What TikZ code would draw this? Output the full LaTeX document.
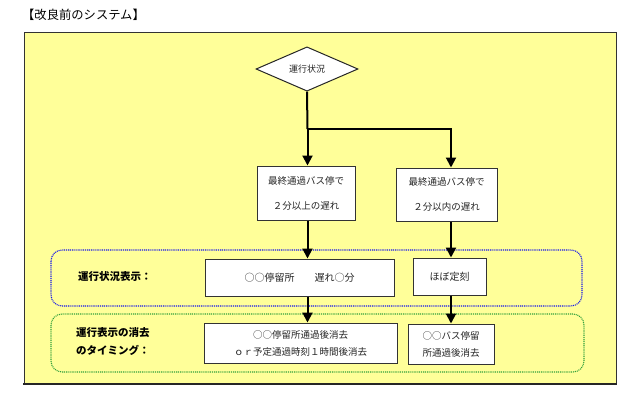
\documentclass[tikz,border=0pt]{standalone}
\usepackage{fontspec}
\setmainfont{Noto Sans CJK JP}
\usetikzlibrary{shapes.geometric,arrows.meta}
\definecolor{bgyellow}{RGB}{255,255,153}
\definecolor{dotblue}{RGB}{20,20,235}
\definecolor{dotgreen}{RGB}{50,160,60}
\tikzset{
  boxnode/.style={draw=black!80, line width=1pt, fill=white, inner sep=0pt, text=black!85, align=center},
  flowline/.style={line width=2pt, black},
  flowarrow/.style={line width=2pt, black, -{Triangle[length=10pt,width=10pt]}},
  groupframe/.style={line width=1.1pt, rounded corners=11pt, dash pattern=on 1pt off 0.9pt},
  labeltext/.style={anchor=west, inner sep=0pt, align=left, font=\bfseries\fontsize{10.5}{18}\selectfont}
}
\begin{document}
\begin{tikzpicture}[x=1pt,y=-1pt]
\useasboundingbox (0,0) rectangle (640,400);
% title
\node[anchor=west, inner sep=0pt, font=\fontsize{12.3}{14}\selectfont] (title) at (22,15) {【改良前のシステム】};
% outer panel
\fill[bgyellow] (24,32) rectangle (616,384);
\draw[black!80, line width=0.9pt] (24,384) -- (24,32) -- (616,32) -- (616,384);
\draw[black!85, line width=2pt] (23,384) -- (617,384);
% group frames
\draw[groupframe, dotblue] (51,250) rectangle (582,306);
\draw[groupframe, dotgreen] (51,314) rectangle (584,372);
% diamond
\node[diamond, draw=black!85, line width=1pt, fill=white, minimum width=102pt, minimum height=42pt, inner sep=0pt, font=\fontsize{9}{11}\selectfont, text=black!85] (dia) at (307,69) {運行状況};
% condition boxes
\node[boxnode, minimum width=98pt, minimum height=54pt, font=\fontsize{9.5}{25}\selectfont] (b1) at (306,193) {最終通過バス停で\\２分以上の遅れ};
\node[boxnode, minimum width=101pt, minimum height=53pt, font=\fontsize{9.5}{25}\selectfont] (b2) at (446.5,194.5) {最終通過バス停で\\２分以内の遅れ};
% display boxes
\node[boxnode, minimum width=189pt, minimum height=37pt, font=\fontsize{10}{12}\selectfont] (d1) at (299.5,277.5) {○○停留所　　遅れ○分};
\node[boxnode, minimum width=73pt, minimum height=37pt, font=\fontsize{10}{12}\selectfont] (d2) at (449.5,276.5) {ほぼ定刻};
% timing boxes
\node[boxnode, minimum width=193pt, minimum height=40pt, font=\fontsize{9.5}{17}\selectfont] (t1) at (300.5,343) {○○停留所通過後消去\\ｏｒ予定通過時刻１時間後消去};
\node[boxnode, minimum width=86pt, minimum height=40pt, font=\fontsize{9.5}{17}\selectfont] (t2) at (451,344) {○○バス停留\\所通過後消去};
% labels
\node[labeltext] (l1) at (78,277) {運行状況表示：};
\node[labeltext] (l2) at (76,342) {運行表示の消去\\のタイミング：};
% connectors
\coordinate (jl) at (307.5,129);
\coordinate (jr) at (451,129);
\draw[flowline] (dia.south) -- (jl);
\draw[flowline, line cap=rect] (jl) -- (jr);
\draw[flowarrow] (jl) -- (jl |- b1.north);
\draw[flowarrow] (jr) -- (jr |- b2.north);
\draw[flowarrow] (jl |- b1.south) -- (jl |- d1.north);
\draw[flowarrow] (jr |- b2.south) -- (jr |- d2.north);
\draw[flowarrow] (jl |- d1.south) -- (jl |- t1.north);
\draw[flowarrow] (jr |- d2.south) -- (jr |- t2.north);
\end{tikzpicture}
\end{document}
